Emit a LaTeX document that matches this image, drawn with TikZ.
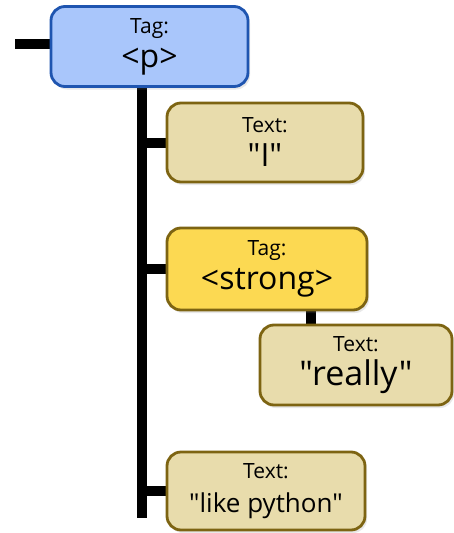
\documentclass[tikz,border=0pt]{standalone}
\usepackage{fontspec}
\setmainfont{Open Sans}[Ligatures=TeXOff]
\usetikzlibrary{backgrounds,shadows}
\definecolor{tagblue}{HTML}{A9C6FB}
\definecolor{tagblueb}{HTML}{1F55B0}
\definecolor{txtfill}{HTML}{E8DCAC}
\definecolor{txtb}{HTML}{7D6412}
\definecolor{strongfill}{HTML}{FCD952}
\tikzset{
  box/.style={rounded corners=14pt, line width=2.8pt, align=center, inner sep=0pt,
    font=\fontsize{21}{34}\selectfont,
    drop shadow={shadow xshift=2pt, shadow yshift=-3pt, opacity=0.18}},
  tagbox/.style={box, fill=tagblue, draw=tagblueb},
  txtbox/.style={box, fill=txtfill, draw=txtb},
  strongbox/.style={box, fill=strongfill, draw=txtb},
  conn/.style={line width=10pt, black},
}
\newcommand{\bigtxt}[2]{{\fontsize{#1}{34}\selectfont #2}}
\begin{document}
\begin{tikzpicture}[x=1pt,y=-1pt]
\useasboundingbox (0,0) rectangle (453,533);
\node[tagbox, minimum width=197pt, minimum height=80pt] (p) at (149.5,46.5)
  {Tag:\\\bigtxt{32}{<p>}};
\node[txtbox, minimum width=196pt, minimum height=79pt] (i) at (265,142.5)
  {Text:\\\bigtxt{32}{"I"}};
\node[strongbox, minimum width=200pt, minimum height=82pt] (s) at (267,269)
  {Tag:\\\bigtxt{32}{<strong>}};
\node[txtbox, minimum width=192pt, minimum height=80pt] (r) at (356,365)
  {Text:\\\bigtxt{34}{"really"}};
\node[txtbox, minimum width=198pt, minimum height=78pt] (l) at (266,491)
  {Text:\\\bigtxt{26}{"like python"}};
\coordinate (stub) at (15,44);
\coordinate (tend) at (142,518);
\coordinate (sx) at (311,0);
\begin{scope}[on background layer]
\draw[conn] (stub) -- (stub -| p.west);
\draw[conn] (p.south -| tend) -- (tend);
\draw[conn] (i.west -| tend) -- (i.west);
\draw[conn] (s.west -| tend) -- (s.west);
\draw[conn] (l.west -| tend) -- (l.west);
\draw[conn] (s.south -| sx) -- (r.north -| sx);
\end{scope}
\end{tikzpicture}
\end{document}
